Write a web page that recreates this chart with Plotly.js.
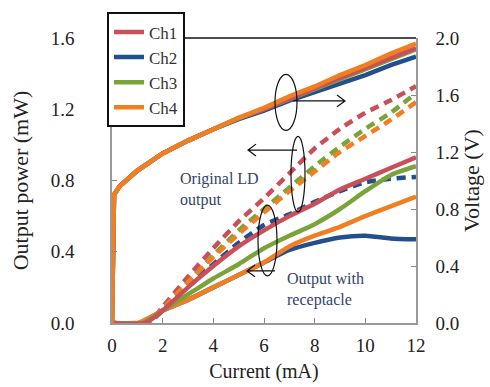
<!DOCTYPE html>
<html><head><meta charset="utf-8">
<script src="https://cdn.plot.ly/plotly-3.0.1.min.js"></script>
<style>html,body{margin:0;padding:0;background:#fff;font-family:"Liberation Serif",serif}#chart{width:490px;height:387px}</style>
</head><body><div id="chart"></div>
<script>
// ---------- data ----------
const channels = ["Ch1", "Ch2", "Ch3", "Ch4"];
const colors = ["#c9505a", "#234f8c", "#7aa33a", "#f07f22"];

// Voltage (V) vs current (mA)
const vX = [0, 0.08, 0.3, 1, 2, 3, 4, 5, 6, 7, 8, 9, 10, 11, 12];
const vCh1 = [0, 0.9, 0.96, 1.07, 1.19, 1.28, 1.36, 1.44, 1.50, 1.575, 1.645, 1.72, 1.79, 1.86, 1.93];
const vCh2 = [0, 0.9, 0.96, 1.07, 1.19, 1.28, 1.36, 1.43, 1.49, 1.56, 1.62, 1.68, 1.74, 1.81, 1.87];
const vCh3 = [0, 0.9, 0.96, 1.07, 1.19, 1.28, 1.36, 1.435, 1.50, 1.57, 1.64, 1.71, 1.78, 1.85, 1.92];
const vCh4 = [0, 0.9, 0.96, 1.07, 1.19, 1.28, 1.36, 1.44, 1.51, 1.59, 1.66, 1.74, 1.81, 1.89, 1.96];

// Original LD output power (mW), dashed
const oCh1X = [0, 1.5, 2, 3, 4, 5, 6, 7, 8, 9, 10, 11, 12];
const oCh1 = [0, 0.01, 0.09, 0.26, 0.42, 0.57, 0.70, 0.84, 0.98, 1.09, 1.18, 1.25, 1.33];
const oCh2X = [0, 1.4, 2, 3, 4, 5, 6, 7, 8, 9, 10, 11, 12];
const oCh2 = [0, 0, 0.07, 0.21, 0.33, 0.45, 0.55, 0.61, 0.68, 0.74, 0.79, 0.81, 0.82];
const oCh3X = [0, 1.4, 2, 3, 4, 5, 6, 7, 8, 9, 10, 11, 12];
const oCh3 = [0, 0, 0.07, 0.23, 0.38, 0.52, 0.64, 0.76, 0.88, 0.99, 1.09, 1.18, 1.29];
const oCh4X = [0, 1.3, 2, 3, 4, 5, 6, 7, 8, 9, 10, 11, 12];
const oCh4 = [0, 0, 0.08, 0.23, 0.37, 0.50, 0.62, 0.74, 0.85, 0.96, 1.05, 1.14, 1.24];

// Output power with receptacle (mW), solid
const rCh1X = [0, 1.3, 2, 3, 4, 5, 6, 7, 8, 9, 10, 11, 12];
const rCh1 = [0, 0, 0.07, 0.20, 0.32, 0.43, 0.52, 0.60, 0.67, 0.75, 0.81, 0.87, 0.93];
const rCh2X = [0, 1.1, 2, 3, 4, 5, 6, 7, 8, 9, 10, 11, 12];
const rCh2 = [0, 0, 0.07, 0.13, 0.20, 0.27, 0.34, 0.41, 0.45, 0.48, 0.49, 0.475, 0.47];
const rCh3X = [0, 1.2, 2, 3, 4, 5, 6, 7, 8, 9, 10, 11, 12];
const rCh3 = [0, 0, 0.07, 0.16, 0.25, 0.33, 0.42, 0.49, 0.555, 0.64, 0.74, 0.83, 0.88];
const rCh4X = [0, 1.0, 2, 3, 4, 5, 6, 7, 8, 9, 10, 11, 12];
const rCh4 = [0, 0, 0.07, 0.13, 0.20, 0.27, 0.34, 0.43, 0.49, 0.54, 0.60, 0.655, 0.71];

const xTicks = [0, 2, 4, 6, 8, 10, 12];
const yLeftTicks = [0, 0.4, 0.8, 1.2, 1.6];
const yRightTicks = [0, 0.4, 0.8, 1.2, 1.6, 2.0];

// ---------- traces ----------
const vY = [vCh1, vCh2, vCh3, vCh4];
const oX = [oCh1X, oCh2X, oCh3X, oCh4X], oY = [oCh1, oCh2, oCh3, oCh4];
const rX = [rCh1X, rCh2X, rCh3X, rCh4X], rY = [rCh1, rCh2, rCh3, rCh4];
const traces = [];
[0, 1, 2, 3].forEach(i => traces.push({
  x: oX[i], y: oY[i], type: 'scatter', mode: 'lines', showlegend: false,
  line: {color: colors[i], width: 4.5, dash: '9px,6px', shape: 'spline', smoothing: 0.6}, yaxis: 'y'
}));
[1, 3, 2, 0].forEach(i => traces.push({
  x: rX[i], y: rY[i], type: 'scatter', mode: 'lines', showlegend: false,
  line: {color: colors[i], width: 4.5, shape: 'spline', smoothing: 0.6}, yaxis: 'y'
}));
[1, 2, 0, 3].forEach(i => traces.push({
  x: vX, y: vY[i], type: 'scatter', mode: 'lines', name: channels[i],
  legendrank: i + 1,
  line: {color: colors[i], width: 4.5}, yaxis: 'y2'
}));

// ---------- layout helpers (pixel -> paper) ----------
const L = 112, R = 416, T = 33, B = 323;
const px = v => (v - L) / (R - L);
const py = v => (B - v) / (B - T);
const P = (x, y) => px(x).toFixed(4) + ',' + py(y).toFixed(4);
function arrow(x1, y, x2) {
  const d = x2 > x1 ? -8 : 8;
  return {type: 'path', xref: 'paper', yref: 'paper',
    path: 'M' + P(x1, y) + ' L' + P(x2, y) + ' M' + P(x2 + d, y - 6) + ' L' + P(x2, y) + ' L' + P(x2 + d, y + 6),
    line: {color: '#111', width: 1.2}};
}
function ell(x0, y0, x1, y1) {
  return {type: 'circle', xref: 'paper', yref: 'paper', x0: px(x0), x1: px(x1), y0: py(y1), y1: py(y0),
    line: {color: '#111', width: 1.2}};
}
const FAM = "Liberation Serif";

const layout = {
  width: 490, height: 387,
  margin: {l: L, r: 490 - R, t: T, b: 387 - B, pad: 0},
  paper_bgcolor: '#fff', plot_bgcolor: '#fff',
  font: {family: FAM, size: 17, color: '#222'},
  showlegend: true,
  legend: {x: px(107), y: py(7), xanchor: 'left', yanchor: 'top',
    bgcolor: '#fff', bordercolor: '#111', borderwidth: 2,
    font: {family: FAM, size: 17, color: '#333'}, tracegroupgap: 0, traceorder: 'normal'},
  xaxis: {range: [0, 12], tickvals: xTicks, ticktext: xTicks.map(String),
    ticks: 'inside', ticklen: 5, tickcolor: '#888', showgrid: false, zeroline: false,
    showline: true, linecolor: '#999', linewidth: 1.5, ticklabelstandoff: 4,
    tickfont: {family: FAM, size: 19, color: '#222'},
    title: {text: 'Current (mA)', font: {family: FAM, size: 20, color: '#222'}, standoff: 9}},
  yaxis: {range: [0, 1.6], tickvals: yLeftTicks, ticktext: yLeftTicks.map(v => v.toFixed(1)),
    ticks: 'inside', ticklen: 5, tickcolor: '#888', showgrid: false, zeroline: false,
    showline: true, linecolor: '#999', linewidth: 1.5, ticklabelstandoff: 32,
    tickfont: {family: FAM, size: 19, color: '#222'},
    title: {text: 'Output power (mW)', font: {family: FAM, size: 22, color: '#222'}, standoff: 16}},
  yaxis2: {range: [0, 2.0], tickvals: yRightTicks, ticktext: yRightTicks.map(v => v.toFixed(1)),
    overlaying: 'y', side: 'right',
    ticks: 'inside', ticklen: 5, tickcolor: '#888', showgrid: false, zeroline: false,
    showline: true, linecolor: '#999', linewidth: 1.5, ticklabelstandoff: 14,
    tickfont: {family: FAM, size: 19, color: '#222'},
    title: {text: 'Voltage (V)', font: {family: FAM, size: 22, color: '#222'}, standoff: 5}},
  shapes: [
    {type: 'line', xref: 'paper', yref: 'paper', x0: 0, x1: 1, y0: 1, y1: 1, line: {color: '#111', width: 1.5}},
    ell(275, 70, 297, 127), arrow(293, 97, 345),
    ell(291, 133, 305, 210), arrow(297, 147, 248),
    ell(258, 203, 277, 275), arrow(275, 270, 247)
  ],
  annotations: [
    {xref: 'paper', yref: 'paper', x: px(178), y: py(165), xanchor: 'left', yanchor: 'top', align: 'left',
      showarrow: false, text: 'Original LD<br>output', font: {family: FAM, size: 16, color: '#34436a'}},
    {xref: 'paper', yref: 'paper', x: px(285), y: py(267), xanchor: 'left', yanchor: 'top', align: 'left',
      showarrow: false, text: 'Output with<br>receptacle', font: {family: FAM, size: 16, color: '#34436a'}}
  ]
};
Plotly.newPlot('chart', traces, layout, {displayModeBar: false});
</script></body></html>
